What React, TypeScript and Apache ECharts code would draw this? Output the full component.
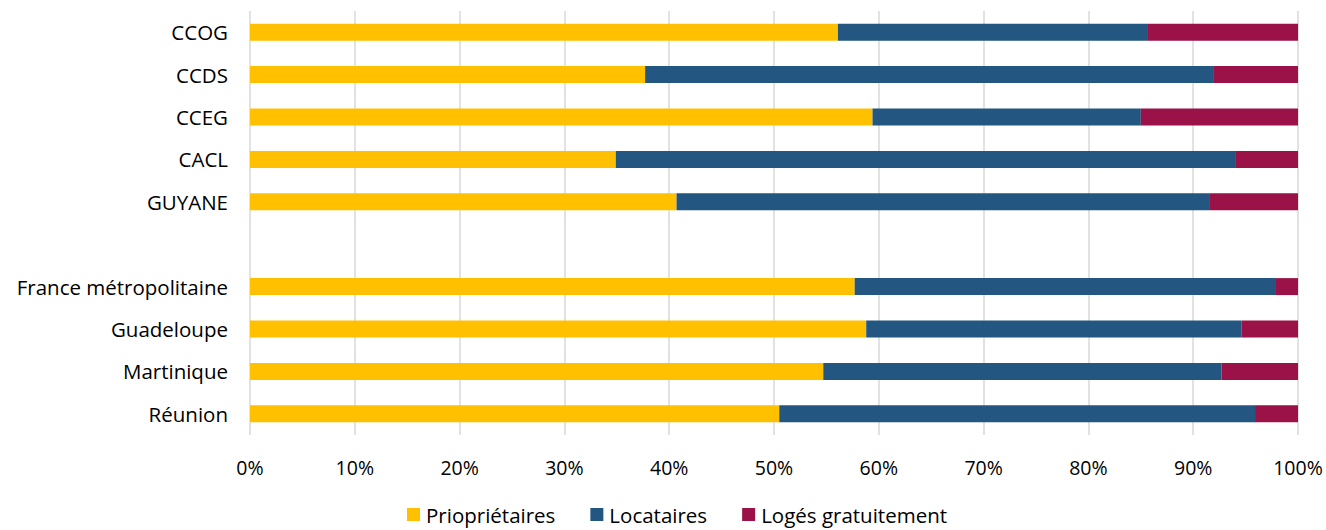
import React, { useEffect, useRef } from "react";
import * as echarts from "echarts";

const categories = [
  "CCOG",
  "CCDS",
  "CCEG",
  "CACL",
  "GUYANE",
  "",
  "France métropolitaine",
  "Guadeloupe",
  "Martinique",
  "Réunion",
];
const proprietaires = [56.1, 37.7, 59.4, 34.9, 40.7, null, 57.7, 58.8, 54.7, 50.5];
const locataires = [29.5, 54.2, 25.6, 59.1, 50.9, null, 40.2, 35.8, 38.0, 45.4];
const loges = [14.4, 8.1, 15.0, 6.0, 8.4, null, 2.1, 5.4, 7.3, 4.1];
const seriesNames = ["Priopriétaires", "Locataires", "Logés gratuitement"];
const colors = ["#FFC000", "#235680", "#9A1248"];

const FONT = "Open Sans";

export default function App() {
  const ref = useRef<HTMLDivElement>(null);
  useEffect(() => {
    const chart = echarts.init(ref.current!, null, { renderer: "svg" });
    const mk = (name: string, data: (number | null)[], color: string) => ({
      name,
      type: "bar",
      stack: "total",
      data,
      barWidth: 17,
      itemStyle: { color },
    });
    chart.setOption({
      animation: false,
      textStyle: { fontFamily: FONT },
      grid: { left: 250, right: 28, top: 11, height: 424, containLabel: false },
      legend: {
        top: 499,
        left: 402,
        padding: 5,
        itemWidth: 13,
        itemHeight: 13,
        itemGap: 35,
        icon: "rect",
        textStyle: { fontFamily: FONT, fontSize: 20.5, color: "#000", padding: [0, 0, 0, 1] },
        data: seriesNames,
      },
      xAxis: {
        type: "value",
        min: 0,
        max: 100,
        interval: 10,
        axisLabel: {
          formatter: "{value}%",
          fontFamily: FONT,
          fontSize: 19.5,
          color: "#000",
          margin: 22,
        },
        axisLine: { show: false },
        axisTick: { show: false },
        splitLine: { lineStyle: { color: "#d9d9d9", width: 1.5 } },
      },
      yAxis: {
        type: "category",
        inverse: true,
        data: categories,
        axisLabel: {
          fontFamily: FONT,
          fontSize: 20.5,
          color: "#000",
          margin: 22,
        },
        axisLine: { show: false },
        axisTick: { show: false },
      },
      series: [
        mk(seriesNames[0], proprietaires, colors[0]),
        mk(seriesNames[1], locataires, colors[1]),
        mk(seriesNames[2], loges, colors[2]),
      ],
    });
    return () => chart.dispose();
  }, []);
  return (
    <div
      ref={ref}
      style={{ position: "absolute", left: 0, top: 0, width: 1326, height: 530 }}
    />
  );
}
